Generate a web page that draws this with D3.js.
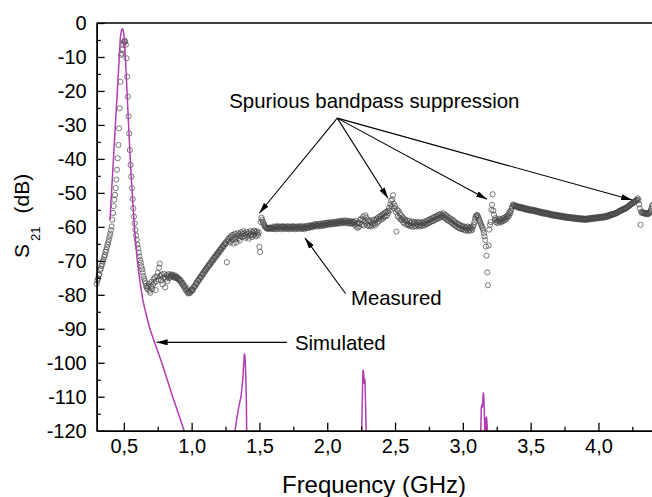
<!DOCTYPE html>
<html><head><meta charset="utf-8">
<script src="https://cdn.jsdelivr.net/npm/d3@7"></script>
<style>
body{margin:0;background:#fff}
svg{display:block}
text{font-family:Arial,"Liberation Sans",sans-serif;fill:#000}
</style>
</head><body>
<svg id="c" width="652" height="497"></svg>
<script>
// ---------- data ----------
const xTicks = [0.5, 1.0, 1.5, 2.0, 2.5, 3.0, 3.5, 4.0];
const xTickLabels = ["0,5", "1,0", "1,5", "2,0", "2,5", "3,0", "3,5", "4,0"];
const xMinorTicks = [0.75, 1.25, 1.75, 2.25, 2.75, 3.25, 3.75, 4.25];
const yTicks = [0, -10, -20, -30, -40, -50, -60, -70, -80, -90, -100, -110, -120];
const yTickLabels = ["0", "-10", "-20", "-30", "-40", "-50", "-60", "-70", "-80", "-90", "-100", "-110", "-120"];
const yMinorTicks = [-5, -15, -25, -35, -45, -55, -65, -75, -85, -95, -105, -115];
const xDomain = [0.3, 4.4];
const yDomain = [-120, 0];

// Simulated S21 (GHz, dB)
const simFreq = [0.398, 0.410, 0.425, 0.440, 0.455, 0.466, 0.474, 0.480, 0.485, 0.489, 0.493, 0.498, 0.504, 0.512, 0.520, 0.535, 0.550, 0.565, 0.580, 0.600, 0.620, 0.640, 0.660, 0.690, 0.730, 0.780, 0.860, 0.945, 0.970,
  1.300, 1.320, 1.335, 1.350, 1.364, 1.377, 1.384, 1.388, 1.390, 1.393, 1.396, 1.399, 1.403, 1.406, 1.420,
  2.240, 2.254, 2.258, 2.262, 2.265, 2.268, 2.272, 2.276, 2.279, 2.283, 2.287, 2.300,
  3.120, 3.132, 3.136, 3.140, 3.144, 3.148, 3.151, 3.154, 3.158, 3.162, 3.166, 3.169, 3.171, 3.174, 3.177, 3.181, 3.195];
const simDb = [-58, -49.5, -39, -28.5, -18, -10.5, -4.5, -2.6, -1.9, -1.7, -1.9, -2.8, -5, -10.5, -17, -30, -42, -52, -61, -70, -76.5, -81.5, -85, -89.7, -94.4, -100, -110, -120, -124,
  -130, -120, -116, -112.5, -110, -105, -100.5, -97.8, -97.4, -98.2, -100, -104, -110, -120, -130,
  -130, -120, -112, -104, -102.2, -102.8, -106, -104.8, -105.5, -113, -120, -130,
  -130, -120, -113.3, -112.5, -113, -110.5, -108.9, -109.6, -114, -120, -125, -120, -116.3, -116.0, -117, -120, -130];

// Measured S21: sweep from 0.300 GHz in 0.005 GHz steps (dB)
const measFreqStart = 0.3;
const measFreqStep = 0.005;
const measDb = [
  /*0.30*/ -76.8, -75.8, -75.2, -74.2, -73.9, -72.8, -72.3, -71.5, -71.0, -70.2, -69.6, -68.8, -68.3, -67.4, -66.8, -66.0, -65.2, -64.5, -63.7, -62.8,
  /*0.40*/ -62.0, -61.0, -59.9, -57.9, -55.9, -53.9, -52.0, -50.6, -48.6, -46.1, -43.2, -39.8, -35.9, -31.0, -25.1, -17.3, -9.4, -9.0, -7.8, -6.3,
  /*0.50*/ -5.6, -5.2, -5.5, -6.4, -10.4, -15.8, -21.7, -27.5, -32.5, -37.4, -41.8, -45.2, -48.6, -51.8, -54.5, -57.0, -59.0, -60.9, -62.5, -63.8,
  /*0.60*/ -65.2, -66.3, -67.6, -68.7, -69.8, -70.6, -71.6, -72.5, -73.4, -74.5, -75.3, -76.0, -76.6, -77.4, -77.9, -78.4, -77.5, -76.8, -78.8, -79.4,
  /*0.70*/ -77.6, -76.2, -78.3, -77.0, -75.4, -76.4, -74.8, -78.6, -76.0, -74.6, -73.6, -75.5, -72.0, -70.8, -74.4, -75.8, -74.0, -76.9, -75.0, -73.8,
  /*0.80*/ -74.9, -77.8, -75.3, -74.2, -76.0, -74.6, -73.9, -75.1, -74.3, -74.8, -74.0, -74.5, -74.1, -74.6, -74.9, -74.3, -75.0, -74.6, -75.2, -74.8,
  /*0.90*/ -75.1, -75.6, -75.4, -76.0, -75.7, -76.4, -76.9, -76.5, -77.3, -77.8, -77.4, -78.3, -78.8, -78.2, -79.2, -79.6, -79.0, -79.5, -79.3, -78.6,
  /*1.00*/ -78.9, -78.3, -78.6, -77.8, -77.4, -77.6, -76.9, -76.5, -76.7, -75.9, -75.6, -75.8, -75.1, -74.7, -74.9, -74.2, -73.8, -74.0, -73.3, -72.9,
  /*1.10*/ -73.1, -72.5, -72.1, -72.3, -71.6, -71.2, -71.5, -70.9, -70.4, -70.7, -70.0, -69.6, -69.9, -69.2, -68.8, -69.1, -68.4, -68.0, -68.3, -67.6,
  /*1.20*/ -67.2, -67.5, -66.8, -66.4, -66.7, -66.0, -65.6, -65.9, -65.2, -64.8, -65.1, -64.4, -70.4, -64.0, -63.6, -64.3, -63.2, -64.6, -63.0, -62.5,
  /*1.30*/ -63.8, -62.4, -64.9, -63.1, -62.0, -63.7, -64.6, -62.6, -61.8, -63.4, -62.2, -64.0, -62.8, -61.6, -63.0, -62.1, -61.3, -62.7, -61.9, -63.2,
  /*1.40*/ -62.4, -61.5, -62.9, -62.0, -63.5, -61.7, -62.6, -61.2, -62.3, -63.0, -61.6, -62.5, -61.1, -62.2, -61.5, -62.8, -61.3, -61.9, -62.4, -61.6,
  /*1.50*/ -65.9, -67.4, -58.6, -57.3, -57.9, -58.5, -58.9, -59.4, -59.8, -60.1, -60.3, -60.5, -60.4, -60.6, -60.3, -60.5, -60.2, -60.4, -60.6, -60.3,
  /*1.60*/ -60.6, -59.9, -60.5, -60.0, -60.7, -60.1, -59.8, -60.6, -60.2, -59.9, -60.5, -60.0, -60.7, -60.1, -59.8, -60.4, -60.0, -60.6, -59.9, -60.4,
  /*1.70*/ -60.0, -60.6, -59.8, -60.3, -60.7, -60.0, -60.4, -59.9, -60.6, -60.1, -59.8, -60.5, -60.0, -60.7, -60.2, -59.9, -60.6, -60.1, -60.4, -59.8,
  /*1.80*/ -60.5, -60.0, -60.6, -59.8, -60.4, -60.1, -60.7, -60.0, -60.3, -59.7, -60.4, -59.9, -60.3, -59.6, -60.2, -59.7, -60.1, -59.5, -60.0, -59.6,
  /*1.90*/ -59.9, -59.3, -59.8, -59.2, -59.7, -59.4, -59.9, -59.1, -59.6, -59.3, -59.8, -59.0, -59.6, -59.2, -59.7, -58.9, -59.5, -59.0, -59.4, -58.8,
  /*2.00*/ -59.4, -58.8, -59.3, -58.7, -59.2, -58.9, -59.3, -58.6, -59.1, -58.7, -59.2, -58.5, -59.0, -58.6, -59.1, -58.4, -58.9, -58.5, -59.0, -58.3,
  /*2.10*/ -58.8, -58.2, -58.9, -58.4, -58.7, -58.1, -58.8, -58.3, -58.9, -58.2, -58.7, -58.4, -59.0, -58.3, -58.9, -58.5, -59.1, -58.4, -59.0, -58.6,
  /*2.20*/ -58.6, -59.4, -58.2, -60.0, -59.1, -60.3, -58.8, -59.9, -59.0, -57.9, -57.6, -59.3, -58.1, -57.0, -59.6, -58.4, -56.6, -58.9, -57.3, -59.5,
  /*2.30*/ -58.2, -59.8, -58.0, -59.6, -58.5, -59.9, -59.0, -58.1, -59.4, -57.9, -58.9, -59.5, -58.0, -57.6, -58.8, -57.2, -58.3, -57.6, -56.8, -57.9,
  /*2.40*/ -57.0, -56.4, -57.6, -56.2, -57.1, -55.8, -56.9, -55.6, -56.7, -55.3, -55.9, -54.4, -55.2, -53.4, -52.3, -54.0, -51.9, -50.7, -53.2, -54.5,
  /*2.50*/ -53.9, -55.6, -61.4, -55.0, -56.9, -55.3, -57.3, -56.0, -57.8, -56.6, -58.0, -57.2, -58.6, -57.5, -59.0, -57.9, -58.4, -59.4, -58.1, -59.2,
  /*2.60*/ -59.5, -58.3, -59.8, -58.9, -59.6, -58.4, -60.0, -59.1, -58.6, -59.8, -58.8, -59.9, -59.2, -58.5, -59.6, -58.7, -59.9, -58.9, -59.5, -58.6,
  /*2.70*/ -59.7, -58.9, -59.3, -58.4, -59.6, -58.7, -59.2, -58.2, -59.0, -58.0, -58.9, -57.8, -58.6, -57.7, -58.4, -57.4, -58.3, -57.2, -58.0, -57.0,
  /*2.80*/ -57.8, -56.9, -57.6, -56.6, -57.5, -56.4, -57.3, -56.2, -57.1, -56.5, -56.9, -56.0, -57.2, -56.4, -57.5, -56.6, -57.8, -56.9, -58.1, -57.3,
  /*2.90*/ -58.3, -57.5, -58.6, -57.8, -58.9, -58.0, -59.2, -58.3, -59.5, -58.7, -59.8, -58.9, -60.1, -59.2, -60.3, -59.4, -60.5, -59.6, -60.7, -59.9,
  /*3.00*/ -60.6, -59.8, -60.9, -60.1, -61.1, -60.2, -60.8, -59.9, -61.2, -60.4, -60.9, -60.0, -61.1, -60.3, -60.8, -59.9, -59.4, -58.6, -57.6, -57.0,
  /*3.10*/ -56.7, -56.5, -56.8, -57.3, -57.9, -58.4, -58.9, -59.4, -59.9, -60.3, -60.9, -61.8, -62.8, -63.9, -65.8, -68.5, -73.4, -77.2, -65.5, -60.8,
  /*3.20*/ -59.4, -58.6, -55.0, -53.5, -50.4, -55.2, -56.5, -58.0, -57.4, -58.6, -58.0, -58.9, -58.3, -57.6, -58.5, -57.8, -58.7, -57.9, -58.4, -57.5,
  /*3.30*/ -58.2, -57.4, -58.0, -57.1, -57.7, -56.8, -57.3, -56.3, -56.8, -55.6, -56.0, -55.2, -54.6, -54.0, -53.4, -53.6, -53.8, -53.7, -54.0, -53.9,
  /*3.40*/ -54.0, -54.3, -54.0, -54.4, -54.1, -54.5, -54.2, -54.6, -54.3, -54.7, -54.4, -54.8, -54.5, -54.9, -54.6, -55.0, -54.7, -55.1, -54.8, -55.2,
  /*3.50*/ -54.9, -55.2, -54.9, -55.3, -55.0, -55.4, -55.1, -55.5, -55.2, -55.6, -55.3, -55.7, -55.4, -55.8, -55.5, -55.9, -55.6, -56.0, -55.7, -56.1,
  /*3.60*/ -55.8, -56.1, -55.8, -56.2, -55.9, -56.3, -56.0, -56.4, -56.1, -56.5, -56.2, -56.6, -56.3, -56.7, -56.4, -56.7, -56.4, -56.8, -56.5, -56.9,
  /*3.70*/ -56.6, -56.9, -56.6, -57.0, -56.7, -57.1, -56.8, -57.1, -56.8, -57.2, -56.9, -57.3, -57.0, -57.3, -57.0, -57.4, -57.1, -57.4, -57.1, -57.5,
  /*3.80*/ -57.2, -57.5, -57.2, -57.6, -57.3, -57.6, -57.3, -57.7, -57.4, -57.7, -57.4, -57.8, -57.5, -57.8, -57.5, -57.8, -57.5, -57.9, -57.6, -57.9,
  /*3.90*/ -57.6, -57.9, -57.6, -57.9, -57.5, -57.8, -57.5, -57.8, -57.4, -57.7, -57.4, -57.7, -57.3, -57.6, -57.3, -57.6, -57.2, -57.5, -57.2, -57.5,
  /*4.00*/ -57.1, -57.4, -57.1, -57.4, -57.0, -57.3, -57.0, -57.3, -56.9, -57.2, -56.9, -57.2, -56.8, -57.0, -56.6, -56.9, -56.5, -56.7, -56.3, -56.6,
  /*4.10*/ -56.3, -56.4, -56.2, -56.3, -56.0, -56.1, -55.9, -56.0, -55.7, -55.7, -55.4, -55.5, -55.2, -55.3, -55.0, -55.1, -54.8, -54.9, -54.6, -54.7,
  /*4.20*/ -54.5, -54.5, -54.2, -54.2, -53.9, -53.9, -53.6, -53.6, -53.3, -53.3, -53.0, -53.0, -52.7, -52.7, -52.4, -52.4, -52.1, -52.1, -51.6, -52.1,
  /*4.30*/ -53.4, -54.6, -59.4, -55.5, -55.9, -55.7, -56.0, -55.8, -56.1, -55.9, -56.2, -56.0, -56.3, -56.1, -56.2, -55.9, -55.6, -55.2, -54.6, -53.9,
  /*4.40*/ -53.5
];

// Annotations (data coordinates: GHz, dB)
const spurLabel = {text: "Spurious bandpass suppression", f: 1.277, db: -25.0};
const spurOrigin = {f: 2.074, db: -28.0};
const spurTargets = [{f: 1.499, db: -56.0}, {f: 2.448, db: -51.6}, {f: 3.178, db: -51.9}, {f: 4.249, db: -52.1}];
const measLabel = {text: "Measured", f: 2.175, db: -82.9};
const measArrow = {from: {f: 2.136, db: -79.7}, to: {f: 1.836, db: -63.3}};
const simLabel = {text: "Simulated", f: 1.762, db: -96.2};
const simArrow = {from: {f: 1.703, db: -94.0}, to: {f: 0.742, db: -94.0}};

// ---------- drawing ----------
const svg = d3.select("#c");
const x = d3.scaleLinear().domain(xDomain).range([96.7, 652.7]);
const y = d3.scaleLinear().domain(yDomain).range([430.7, 23]);

const defs = svg.append("defs");
defs.append("clipPath").attr("id", "plotclip").append("rect")
  .attr("x", x(xDomain[0])).attr("y", y(yDomain[1]))
  .attr("width", x(xDomain[1]) - x(xDomain[0])).attr("height", y(yDomain[0]) - y(yDomain[1]));
defs.append("marker").attr("id", "ah")
  .attr("viewBox", "0 0 11 6").attr("refX", 11).attr("refY", 3)
  .attr("markerWidth", 11).attr("markerHeight", 6)
  .attr("markerUnits", "userSpaceOnUse").attr("orient", "auto")
  .append("path").attr("d", "M0,0L11,3L0,6Z").attr("fill", "#000");

// measured circles
const measured = measDb.map((v, i) => ({f: measFreqStart + i * measFreqStep, db: v}));
svg.append("g").selectAll("circle").data(measured).join("circle")
  .attr("cx", d => x(d.f)).attr("cy", d => y(d.db)).attr("r", 2.6)
  .attr("fill", "none").attr("stroke", "#444").attr("stroke-width", 0.7);

// simulated line
const simData = simFreq.map((f, i) => ({f, db: simDb[i]}));
svg.append("path").datum(simData)
  .attr("clip-path", "url(#plotclip)")
  .attr("fill", "none").attr("stroke", "#b23cb0").attr("stroke-width", 1.5)
  .attr("stroke-linejoin", "round")
  .attr("d", d3.line().x(d => x(d.f)).y(d => y(d.db)));

// axes
function styleAxis(g) {
  g.attr("font-family", null).attr("font-size", null);
  g.select(".domain").attr("stroke", "#000").attr("stroke-width", 1.5);
  g.selectAll(".tick line").attr("stroke", "#000").attr("stroke-width", 1.3);
  g.selectAll(".tick text").attr("fill", "#000").style("font-size", "20px");
}
const xMinorAxis = svg.append("g").attr("transform", `translate(0,${y(yDomain[0])})`)
  .call(d3.axisBottom(x).tickValues(xMinorTicks).tickSize(-4).tickSizeOuter(0).tickFormat(""));
styleAxis(xMinorAxis);
const yMinorAxis = svg.append("g").attr("transform", `translate(${x(xDomain[0])},0)`)
  .call(d3.axisLeft(y).tickValues(yMinorTicks).tickSize(-4).tickSizeOuter(0).tickFormat(""));
styleAxis(yMinorAxis);
const xAxis = svg.append("g").attr("transform", `translate(0,${y(yDomain[0])})`)
  .call(d3.axisBottom(x).tickValues(xTicks).tickSize(-8).tickSizeOuter(0).tickPadding(8)
    .tickFormat((d, i) => xTickLabels[i]));
styleAxis(xAxis);
const yAxis = svg.append("g").attr("transform", `translate(${x(xDomain[0])},0)`)
  .call(d3.axisLeft(y).tickValues(yTicks).tickSize(-8).tickSizeOuter(0).tickPadding(10)
    .tickFormat((d, i) => yTickLabels[i]));
styleAxis(yAxis);

// top frame line
svg.append("line").attr("x1", x(xDomain[0])).attr("x2", x(xDomain[1]))
  .attr("y1", y(yDomain[1])).attr("y2", y(yDomain[1]))
  .attr("stroke", "#000").attr("stroke-width", 1.5);

// axis titles
svg.append("text").attr("x", 374).attr("y", 493).attr("text-anchor", "middle")
  .style("font-size", "24px").text("Frequency (GHz)");
const yt = svg.append("text").attr("transform", "translate(28.5,258) rotate(-90)")
  .style("font-size", "21px");
yt.append("tspan").text("S");
yt.append("tspan").attr("dx", 3).attr("dy", 11).style("font-size", "13px").text("21");
yt.append("tspan").attr("dx", 13).attr("dy", -11).text("(dB)");

// annotations
const ann = svg.append("g");
function arrow(a, b) {
  ann.append("line").attr("x1", x(a.f)).attr("y1", y(a.db)).attr("x2", x(b.f)).attr("y2", y(b.db))
    .attr("stroke", "#000").attr("stroke-width", 1.1).attr("marker-end", "url(#ah)");
}
spurTargets.forEach(t => arrow(spurOrigin, t));
arrow(measArrow.from, measArrow.to);
arrow(simArrow.from, simArrow.to);
[spurLabel, measLabel, simLabel].forEach(l => {
  ann.append("text").attr("x", x(l.f)).attr("y", y(l.db)).style("font-size", "20.4px").text(l.text);
});
</script>
</body></html>
